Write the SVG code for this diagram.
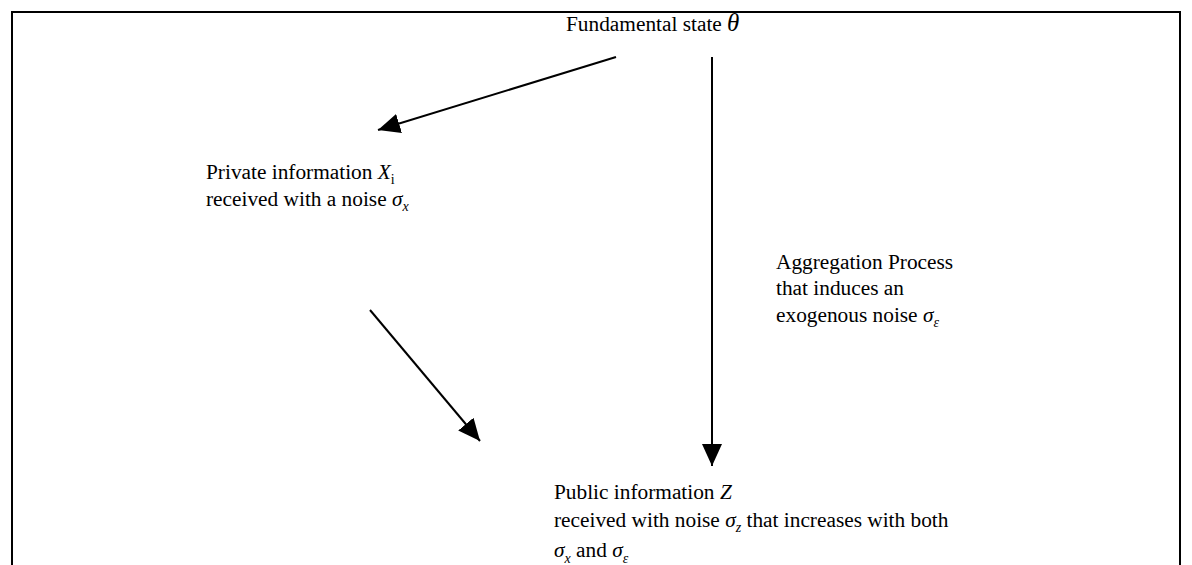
<svg xmlns="http://www.w3.org/2000/svg" width="1192" height="565" viewBox="0 0 1192 565">
<style>
text{font-family:"Liberation Serif","Times New Roman",serif;font-size:21.33px;fill:#000}
.i{font-style:italic}
.sub{font-size:14px}
.conn{stroke:#000;stroke-width:2;fill:none;marker-end:url(#ah)}
.frame{stroke:#000;stroke-width:2;fill:none}
</style>
<defs>
<marker id="ah" markerUnits="userSpaceOnUse" markerWidth="22" markerHeight="20" refX="22" refY="10" orient="auto">
<path d="M0,0 L22,10 L0,20 z" fill="#000"/>
</marker>
</defs>
<path class="frame" d="M12,565 L12,12 L1180,12 L1180,565"/>
<g id="connectors">
<line class="conn" x1="616" y1="57" x2="378" y2="130"/>
<line class="conn" x1="712" y1="57" x2="712" y2="466"/>
<line class="conn" x1="370" y1="310" x2="480" y2="441"/>
</g>
<g id="node-fundamental">
<text x="566" y="31">Fundamental state <tspan class="i" font-size="25">θ</tspan></text>
</g>
<g id="node-private">
<text x="206" y="179">Private information <tspan class="i">X</tspan><tspan class="sub" dy="5">i</tspan></text>
<text x="206" y="206">received with a noise <tspan class="i">σ</tspan><tspan class="i sub" dy="5">x</tspan></text>
</g>
<g id="node-aggregation">
<text x="776" y="269">Aggregation Process</text>
<text x="776" y="295">that induces an</text>
<text x="776" y="322">exogenous noise <tspan class="i">σ</tspan><tspan class="i sub" dy="5">ε</tspan></text>
</g>
<g id="node-public">
<text x="554" y="499">Public information <tspan class="i">Z</tspan></text>
<text x="554" y="527">received with noise <tspan class="i">σ</tspan><tspan class="i sub" dy="5">z</tspan><tspan dy="-5"> that increases with both</tspan></text>
<text x="554" y="557"><tspan class="i">σ</tspan><tspan class="i sub" dy="6">x</tspan><tspan dy="-6"> and </tspan><tspan class="i">σ</tspan><tspan class="i sub" dy="6">ε</tspan></text>
</g>
</svg>
